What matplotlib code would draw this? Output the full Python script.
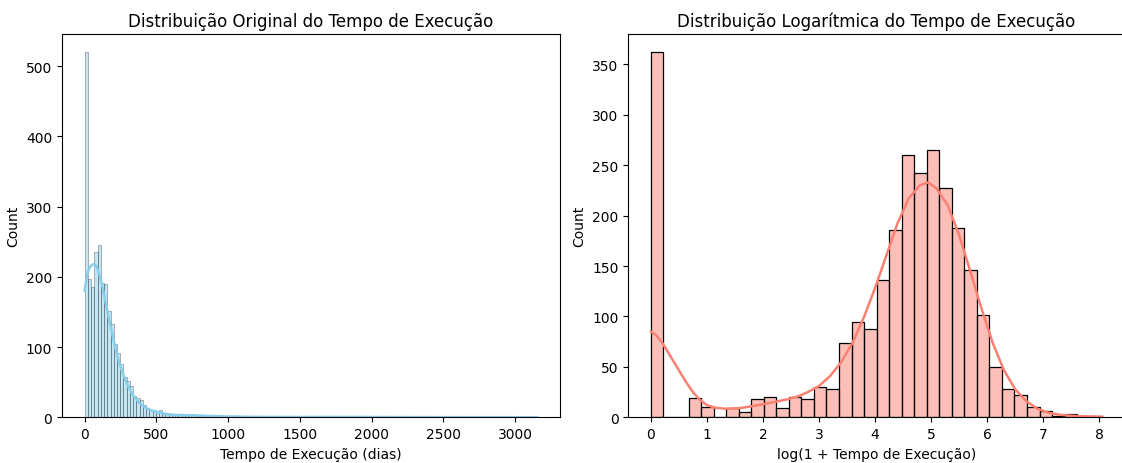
import numpy as np
import matplotlib
matplotlib.use("Agg")
import matplotlib.pyplot as plt

# ---------------- data ----------------
# Left: original execution time (days), 140 equal bins from 0 to max
orig_max = 3156.0
orig_nbins = 140
orig_counts_head = [520, 197, 186, 235, 245, 191, 190, 152, 133, 105,
                    92, 76, 58, 52, 45, 30, 27, 25, 18, 13,
                    11, 10, 8, 11, 5, 5, 4, 4, 4, 4,
                    3, 3, 3, 3, 3, 3, 2, 1, 2, 1,
                    1, 1, 1, 1, 1, 1]
orig_tail_bins = [46, 48, 50, 53, 56, 57, 63, 74, 80, 86, 139]
orig_tail_counts = [1, 1, 1, 1, 1, 1, 1, 1, 1, 1, 1]
orig_kde_x = [0, 10, 20, 32, 45, 55, 65, 75, 85, 97, 110, 125, 140, 155,
              170, 185, 200, 215, 230, 245, 260, 280, 300, 325, 350, 375,
              400, 450, 500, 560, 620, 700, 760, 850, 1000, 1200, 1500,
              1700, 2000, 2500, 3156]
orig_kde_y = [180, 194, 205, 212, 216, 217.5, 218, 217, 214, 207, 198, 185,
              170, 155, 140, 126, 112, 98, 86, 75, 66, 55, 46, 36, 28, 22,
              17, 11, 8, 5, 3.5, 3, 3, 2, 1.2, 0.6, 0.4, 0.5, 0.4, 0.2, 0.1]

# Right: log(1 + time), 36 equal bins from 0 to max
log_max = 8.057
log_nbins = 36
log_counts = [362, 0, 0, 19, 10, 0, 9, 5, 18, 20,
              9, 20, 18, 30, 28, 74, 95, 88, 136, 186,
              260, 242, 265, 227, 188, 146, 101, 50, 28, 22,
              10, 6, 1, 3, 0, 1]
log_kde_x = [0, 0.1, 0.2, 0.3, 0.44, 0.55, 0.65, 0.75, 0.86, 1.0, 1.15,
             1.33, 1.57, 1.81, 2.0, 2.23, 2.45, 2.64, 2.8, 3.0, 3.2, 3.4,
             3.6, 3.8, 4.0, 4.2, 4.4, 4.6, 4.8, 4.95, 5.1, 5.3, 5.5, 5.7,
             5.9, 6.1, 6.3, 6.5, 6.7, 6.9, 7.1, 7.3, 7.6, 8.057]
log_kde_y = [85, 81, 74, 65, 52, 42, 33, 25, 18, 12, 9.5,
             8.5, 9, 11, 13, 15.5, 18, 21, 25, 31, 41, 55,
             74, 99, 128, 160, 192, 217, 230, 233, 227, 210, 181, 145,
             108, 74, 47, 28, 16, 8.5, 4.5, 2.5, 1.2, 0.5]

titles = ["Distribuição Original do Tempo de Execução",
          "Distribuição Logarítmica do Tempo de Execução"]
xlabels = ["Tempo de Execução (dias)", "log(1 + Tempo de Execução)"]
ylabel = "Count"

# ---------------- drawing ----------------
fig = plt.figure(figsize=(11.22, 4.64), dpi=100)
W, H = 1122.0, 464.0
ax1 = fig.add_axes([62 / W, (H - 418.3) / H, 498 / W, (418.3 - 35) / H])
ax2 = fig.add_axes([628.4 / W, (H - 418.3) / H, 496.4 / W, (418.3 - 35) / H])

# left histogram
orig_counts = np.zeros(orig_nbins)
orig_counts[:len(orig_counts_head)] = orig_counts_head
for b, c in zip(orig_tail_bins, orig_tail_counts):
    orig_counts[b] = c
edges1 = np.linspace(0, orig_max, orig_nbins + 1)
w1 = edges1[1] - edges1[0]
ax1.bar(edges1[:-1], orig_counts, width=w1, align="edge",
        facecolor=matplotlib.colors.to_rgba("skyblue", 0.5),
        edgecolor=(0, 0, 0, 0.5), linewidth=0.4)
ax1.plot(orig_kde_x, orig_kde_y, color="skyblue", lw=1.8)
ax1.set_xlim(-0.05 * orig_max, 1.05 * orig_max)
ax1.set_ylim(0, 1.05 * max(orig_counts))
ax1.set_title(titles[0], fontsize=12)
ax1.set_xlabel(xlabels[0], fontsize=10)
ax1.set_ylabel(ylabel, fontsize=10)

# right histogram
edges2 = np.linspace(0, log_max, log_nbins + 1)
w2 = edges2[1] - edges2[0]
ax2.bar(edges2[:-1], log_counts, width=w2, align="edge",
        facecolor=matplotlib.colors.to_rgba("salmon", 0.5),
        edgecolor="black", linewidth=0.9)
ax2.plot(log_kde_x, log_kde_y, color="salmon", lw=1.8)
ax2.set_xlim(-0.05 * log_max, 1.05 * log_max)
ax2.set_ylim(0, 1.05 * max(log_counts))
ax2.set_title(titles[1], fontsize=12)
ax2.set_xlabel(xlabels[1], fontsize=10)
ax2.set_ylabel(ylabel, fontsize=10)

fig.savefig("out.png", dpi=100)
